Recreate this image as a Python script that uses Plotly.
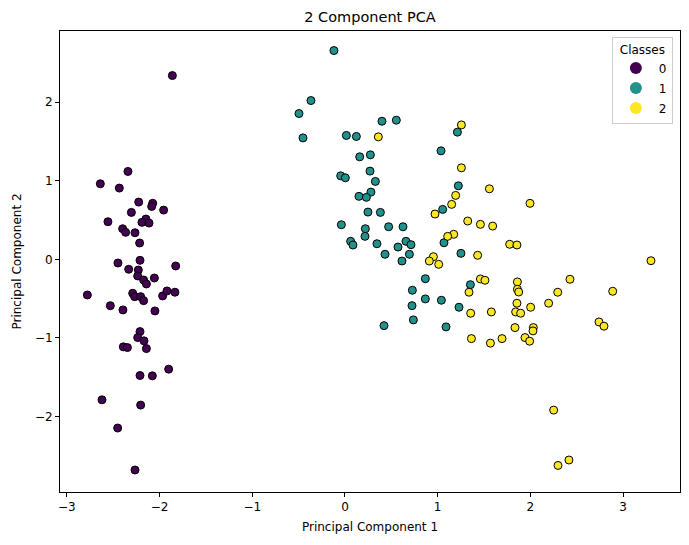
import plotly.graph_objects as go

# Class 0
pc1_c0 = [-1.862, -2.341, -2.639, -2.434, -2.225, -2.074, -2.085, -1.956, -2.304, -2.557,
          -2.147, -2.190, -2.114, -2.398, -2.366, -2.265, -2.215, -2.449, -2.211, -1.826,
          -2.333, -2.229, -2.236, -2.172, -2.142, -2.056, -2.779, -2.290, -2.269, -2.204,
          -2.172, -1.967, -1.920, -1.834, -2.531, -2.395, -2.050, -2.211, -2.236, -2.168,
          -2.142, -2.391, -2.347, -1.902, -2.211, -2.078, -2.621, -2.204, -2.452, -2.265]
pc2_c0 = [2.338, 1.118, 0.961, 0.906, 0.728, 0.712, 0.673, 0.626, 0.597, 0.478,
          0.512, 0.470, 0.461, 0.389, 0.343, 0.338, 0.207, -0.047, -0.013, -0.085,
          -0.127, -0.136, -0.212, -0.263, -0.314, -0.238, -0.454, -0.432, -0.475, -0.475,
          -0.526, -0.466, -0.403, -0.419, -0.590, -0.644, -0.657, -0.920, -0.996, -1.038,
          -1.136, -1.114, -1.123, -1.398, -1.479, -1.483, -1.788, -1.855, -2.147, -2.681]

# Class 1
pc1_c1 = [-0.119, -0.367, -0.496, 0.399, 0.554, -0.453, 0.015, 0.123, 0.274, 0.159,
          0.270, -0.046, 0.004, 0.328, 0.280, 0.151, 0.231, 0.248, 0.382, -0.039,
          0.220, 0.471, 0.626, 0.216, 0.061, 0.086, 0.345, 0.658, 0.712, 0.572,
          0.432, 0.695, 0.615, 0.727, 0.723, 0.738, 0.421, 1.213, 1.036, 1.223,
          1.054, 1.068, 1.251, 0.867, 1.353, 0.867, 1.040, 1.230, 1.090]
pc2_c1 = [2.656, 2.020, 1.855, 1.757, 1.770, 1.545, 1.576, 1.563, 1.329, 1.304,
          1.122, 1.062, 1.037, 0.991, 0.855, 0.801, 0.788, 0.601, 0.597, 0.440,
          0.389, 0.414, 0.414, 0.292, 0.229, 0.182, 0.198, 0.229, 0.186, 0.156,
          0.064, 0.064, -0.022, -0.394, -0.590, -0.771, -0.844, 1.618, 1.380, 0.935,
          0.635, 0.211, 0.076, -0.247, -0.323, -0.504, -0.521, -0.610, -0.860]

# Class 2
pc1_c2 = [0.360, 1.256, 1.256, 1.558, 1.194, 1.996, 1.151, 0.971, 1.324, 1.461,
          1.593, 1.173, 1.108, 1.777, 1.855, 1.431, 0.954, 0.910, 1.011, 1.461,
          1.510, 1.338, 1.860, 1.860, 1.874, 1.356, 1.579, 1.855, 1.841, 1.895,
          2.003, 1.834, 2.032, 2.028, 1.364, 1.569, 1.694, 1.942, 1.992, 3.301,
          2.427, 2.295, 2.888, 2.197, 2.740, 2.794, 2.251, 2.416, 2.298]
pc2_c2 = [1.558, 1.710, 1.164, 0.897, 0.813, 0.712, 0.699, 0.576, 0.487, 0.445,
          0.423, 0.318, 0.292, 0.191, 0.182, 0.051, 0.033, -0.022, -0.064, -0.250,
          -0.267, -0.419, -0.288, -0.381, -0.416, -0.686, -0.670, -0.559, -0.670, -0.686,
          -0.610, -0.869, -0.869, -0.911, -1.009, -1.067, -1.009, -0.996, -1.042, -0.018,
          -0.254, -0.419, -0.407, -0.559, -0.797, -0.851, -1.919, -2.554, -2.623]

class_names = ["0", "1", "2"]
class_colors = ["#440154", "#21918c", "#fde725"]

series = [(pc1_c0, pc2_c0), (pc1_c1, pc2_c1), (pc1_c2, pc2_c2)]

fig = go.Figure()
for (xs, ys), name, col in zip(series, class_names, class_colors):
    fig.add_trace(go.Scatter(
        x=xs, y=ys, mode="markers", name=name, showlegend=False,
        marker=dict(size=8, color=col, line=dict(color="black", width=1)),
    ))
# legend entries (plain markers, no outline, as in the reference legend)
for name, col in zip(class_names, class_colors):
    fig.add_trace(go.Scatter(
        x=[None], y=[None], mode="markers", name=name, legendgroup=name,
        marker=dict(size=9, color=col, line=dict(width=0)),
    ))

font_family = "DejaVu Sans"
axis_common = dict(
    showline=True, linecolor="black", linewidth=1, mirror=True,
    ticks="outside", ticklen=4, tickcolor="black", tickwidth=1,
    showgrid=False, zeroline=False, automargin=False,
    tickfont=dict(family=font_family, size=12, color="black"),
)

# page body adds an 8px offset; compensate so the plot lands where the reference has it
W, H = 681, 537
fig.update_layout(
    width=W, height=H,
    margin=dict(l=52, r=9, t=23, b=53),
    paper_bgcolor="white", plot_bgcolor="white",
    font=dict(family=font_family, color="black"),
    title=dict(text="2 Component PCA", x=0.5, xref="paper", xanchor="center",
               y=1 - 9 / H, yref="container", yanchor="middle",
               font=dict(family=font_family, size=14.5, color="black")),
    xaxis=dict(range=[-3.074, 3.614], dtick=1, tick0=0,
               title=dict(text="Principal Component 1", standoff=9,
                          font=dict(family=font_family, size=12, color="black")),
               **axis_common),
    yaxis=dict(range=[-2.961, 2.905], dtick=1, tick0=0,
               title=dict(text="Principal Component 2", standoff=10,
                          font=dict(family=font_family, size=12, color="black")),
               **axis_common),
    legend=dict(
        title=dict(text="Classes", side="top center",
                   font=dict(family=font_family, size=12, color="black")),
        x=0.9885, y=0.987, xanchor="right", yanchor="top",
        bgcolor="rgba(255,255,255,0.8)", bordercolor="#cccccc", borderwidth=1,
        font=dict(family=font_family, size=12, color="black"),
        itemsizing="constant", tracegroupgap=1, itemwidth=36,
    ),
)

fig.write_html("out.html")
